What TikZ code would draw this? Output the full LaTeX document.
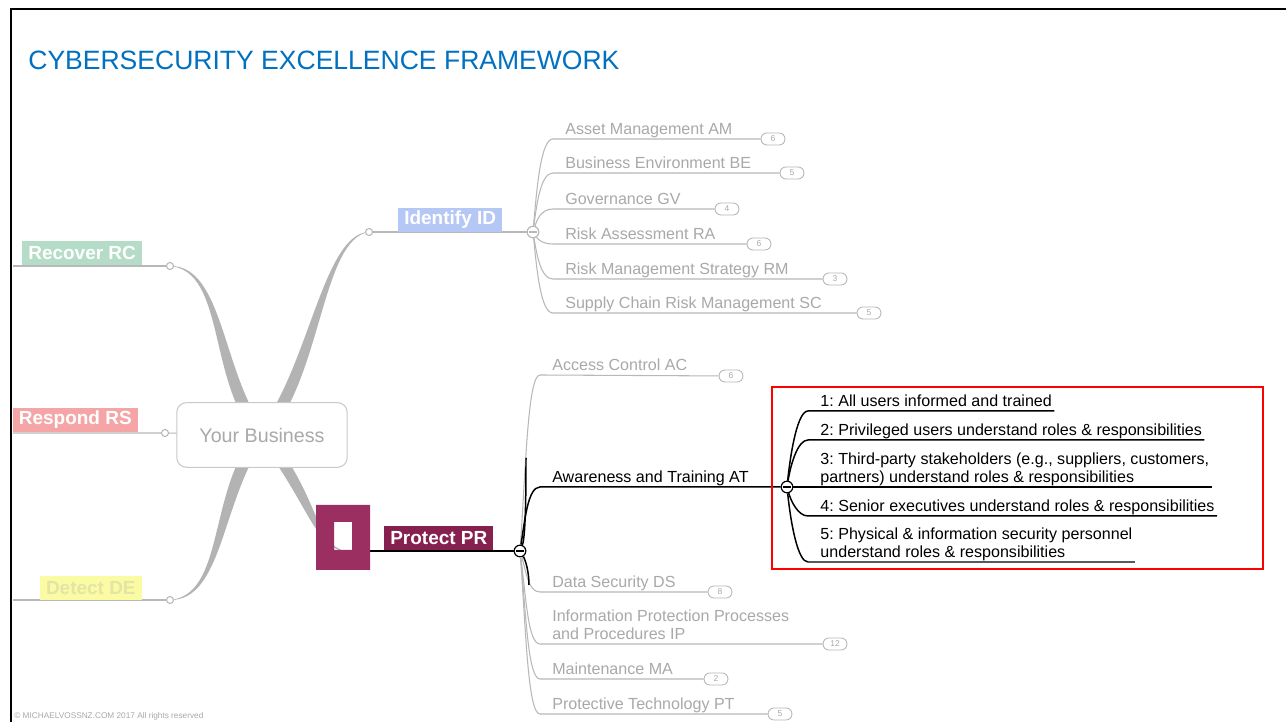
\documentclass[tikz,border=0pt]{standalone}
\usepackage{fontspec}
\setmainfont{Liberation Sans}
\usetikzlibrary{calc,backgrounds}
\frenchspacing

\definecolor{titleblue}{HTML}{0070C0}
\definecolor{limbgray}{HTML}{B3B3B3}
\definecolor{twiggray}{HTML}{B8B8B8}
\definecolor{kidgray}{HTML}{A9A9A9}
\definecolor{bizgray}{HTML}{C9C9C9}
\definecolor{rcgreen}{HTML}{B5DCC6}
\definecolor{rspink}{HTML}{F5A5A5}
\definecolor{deyellow}{HTML}{FBFBA3}
\definecolor{detext}{HTML}{E4E4A6}
\definecolor{idblue}{HTML}{B5C7F5}
\definecolor{prpurple}{HTML}{86204F}
\definecolor{sqpurple}{HTML}{9B2F61}

% tapered main branch: start, control 1, control 2, end, side
\newcommand\drawlimb[5]{%
  \fill[limbgray] ($#1+(-7,0)$) .. controls ($#2+(-7,0)$) and ($#3+(0,{(#5)*3})$) .. #4
    .. controls ($#3+(0,{-(#5)*3})$) and ($#2+(7,0)$) .. ($#1+(7,0)$) -- cycle;}

\tikzset{
  tag/.style={font=\fontsize{10.8pt}{12pt}\selectfont\bfseries, text=white, inner xsep=3.4pt, inner ysep=0pt, minimum height=13.6pt},
  biz/.style={draw=bizgray, fill=white, line width=0.6pt, rounded corners=5.5pt, minimum width=97pt, minimum height=36.8pt, font=\fontsize{11.2pt}{13pt}\selectfont, text=kidgray},
  knob/.style={circle, draw=twiggray, fill=white, line width=0.6pt, inner sep=0pt, minimum size=4pt},
  fold/.style={circle, draw=#1, fill=white, line width=0.7pt, inner sep=0pt, minimum size=6.6pt,
    path picture={\draw[#1, line width=0.8pt] ([xshift=1.3pt]path picture bounding box.west) -- ([xshift=-1.3pt]path picture bounding box.east);}},
  fold/.default=black,
  kid/.style={font=\fontsize{9.15pt}{10.2pt}\selectfont, text=kidgray, anchor=south west, align=left, inner xsep=6.8pt, inner ysep=0.5pt, text depth=2pt},
  leaf/.style={kid, text=black, inner xsep=1.2pt},
  badge/.style={draw=twiggray, line width=0.5pt, rounded corners=3.3pt, minimum width=13.6pt, minimum height=6.8pt, inner sep=0pt, font=\fontsize{4.8pt}{5pt}\selectfont, text=kidgray},
  twig/.style={draw=twiggray, line width=0.6pt},
  stem/.style={draw=black, line width=0.85pt},
}

\begin{document}
\begin{tikzpicture}[x=0.02cm, y=-0.02cm]
\useasboundingbox (0,0) rectangle (1286,722);

\node[anchor=base west, inner sep=0pt, font=\fontsize{15.1pt}{18pt}\selectfont, text=titleblue] (title) at (28,70) {CYBERSECURITY EXCELLENCE FRAMEWORK};

% centre
\coordinate (hub) at (262,435);
\node[biz] (biz) at (hub) {Your Business};

% left side
\coordinate (rcin) at (13,266);
\coordinate (rsin) at (13,433);
\coordinate (dein) at (13,600);
\node[knob] (rcdot) at (170,266) {};
\node[knob] (rsdot) at (165,433) {};
\node[knob] (dedot) at (170,600) {};
\draw[twig] (rcin) -- (rcdot);
\draw[twig] (rsin) -- (rsdot) -- (biz);
\draw[twig] (dein) -- (dedot);
\node[tag, fill=rcgreen, anchor=south west] (rc) at (22,265) {Recover RC};
\node[tag, fill=rspink, anchor=south east] (rs) at (138,432) {Respond RS};
\node[tag, fill=deyellow, text=detext, anchor=south east] (de) at (142,600) {Detect DE};

% identify
\node[knob] (iddot) at (369,232) {};
\node[fold=twiggray] (idminus) at (533,232) {};
\draw[twig] (iddot) -- (idminus);
\node[tag, fill=idblue, anchor=south west] (id) at (398,232) {Identify ID};

\node[kid] (am) at (553,139) {Asset Management AM};
\node[badge] (amn) at (773,139) {6};
\node[kid] (be) at (553,173) {Business Environment BE};
\node[badge] (ben) at (792,173) {5};
\node[kid] (gv) at (553,209) {Governance GV};
\node[badge] (gvn) at (727,209) {4};
\node[kid] (ra) at (553,244) {Risk Assessment RA};
\node[badge] (ran) at (759,244) {6};
\node[kid] (rm) at (553,279) {Risk Management Strategy RM};
\node[badge] (rmn) at (835,279) {3};
\node[kid] (sc) at (553,313) {Supply Chain Risk Management SC};
\node[badge] (scn) at (869,313) {5};

\draw[twig] (idminus) .. controls +(4,-46) and +(-12,0) .. (am.south west) -- (amn);
\draw[twig] (idminus) .. controls +(4,-30) and +(-12,0) .. (be.south west) -- (ben);
\draw[twig] (idminus) .. controls +(4,-12) and +(-12,0) .. (gv.south west) -- (gvn);
\draw[twig] (idminus) .. controls +(4,6) and +(-12,0) .. (ra.south west) -- (ran);
\draw[twig] (idminus) .. controls +(4,24) and +(-12,0) .. (rm.south west) -- (rmn);
\draw[twig] (idminus) .. controls +(4,40) and +(-12,0) .. (sc.south west) -- (scn);

% protect
\coordinate (prend) at (345,551);
\coordinate (prtop) at (526,458);
\coordinate (prfoot) at (529,585);
\node[fold=black] (prminus) at (520,551) {};
\draw[stem, line width=0.7pt] (prend) -- (prminus);
\fill[sqpurple, even odd rule] (316,505) rectangle (370,570) (334,522) rectangle (352,550);
\node[tag, fill=prpurple, anchor=south west] (pr) at (384,550) {Protect PR};

\node[kid] (ac) at (540,375) {Access Control AC};
\node[badge] (acn) at (731,376) {6};
\node[kid, text=black] (at) at (540,487) {Awareness and Training AT};
\node[fold=black] (atminus) at (787,487) {};
\node[kid] (ds) at (540,592) {Data Security DS};
\node[badge] (dsn) at (720,592) {8};
\node[kid] (ip) at (540,644) {Information Protection Processes\\and Procedures IP};
\node[badge] (ipn) at (835,644) {12};
\node[kid] (ma) at (540,679) {Maintenance MA};
\node[badge] (man) at (716,679) {2};
\node[kid] (pt) at (540,714) {Protective Technology PT};
\node[badge] (ptn) at (780,714) {5};

\draw[twig] (prminus) .. controls +(6,-88) and +(-12,0) .. (ac.south west) -- (acn);
\draw[twig] (prminus) .. controls +(6,20) and +(-12,0) .. (ds.south west) -- (dsn);
\draw[twig] (prminus) .. controls +(6,46) and +(-12,0) .. (ip.south west) -- (ipn);
\draw[twig] (prminus) .. controls +(6,64) and +(-12,0) .. (ma.south west) -- (man);
\draw[twig] (prminus) .. controls +(6,82) and +(-12,0) .. (pt.south west) -- (ptn);
\draw[stem] (prminus) .. controls +(6,-15) and +(0,20) .. (prtop);
\draw[stem] (prminus) .. controls +(6,10) and +(0,-12) .. (prfoot);
\draw[stem] (prminus) .. controls +(5,-32) and +(-12,0) .. (at.south west) -- (atminus);

% awareness and training outcomes
\node[leaf] (a1) at (818,411) {1: All users informed and trained};
\node[leaf] (a2) at (818,440) {2: Privileged users understand roles \& responsibilities};
\node[leaf] (a3) at (818,487) {3: Third-party stakeholders (e.g., suppliers, customers,\\partners) understand roles \& responsibilities};
\node[leaf] (a4) at (818,516) {4: Senior executives understand roles \& responsibilities};
\node[leaf] (a5) at (818,562) {5: Physical \& information security personnel\\understand roles \& responsibilities};

\draw[stem] (atminus) .. controls +(4,-38) and +(-10,0) .. ([xshift=-5.7pt]a1.south west) -- (a1.south east);
\draw[stem] (atminus) .. controls +(4,-24) and +(-10,0) .. ([xshift=-5.7pt]a2.south west) -- (a2.south east);
\draw[stem] (atminus) -- ([xshift=-5.7pt]a3.south west) -- (a3.south east);
\draw[stem] (atminus) .. controls +(4,14) and +(-10,0) .. ([xshift=-5.7pt]a4.south west) -- (a4.south east);
\draw[stem] (atminus) .. controls +(4,38) and +(-10,0) .. ([xshift=-5.7pt]a5.south west) -- (a5.south east);

\draw[red, line width=1.3pt] (772,387) rectangle (1263,569);

\node[anchor=base west, inner sep=0pt, font=\fontsize{4.7pt}{5pt}\selectfont, text=kidgray] (copy) at (14,719) {© MICHAELVOSSNZ.COM 2017 All rights reserved};

% slide edge
\draw[line width=1.3pt] (11,722) -- (11,9) -- (1286,9);

\begin{pgfonlayer}{background}
\fill[white] (0,0) rectangle (1286,722);
\drawlimb{(hub)}{(215,380)}{(225,268)}{(rcdot.center)}{1}
\drawlimb{(hub)}{(315,375)}{(322,236)}{(iddot.center)}{-1}
\drawlimb{(hub)}{(215,490)}{(225,598)}{(dedot.center)}{-1}
\drawlimb{(hub)}{(312,495)}{(315,547)}{(prend)}{1}
\end{pgfonlayer}
\end{tikzpicture}
\end{document}
